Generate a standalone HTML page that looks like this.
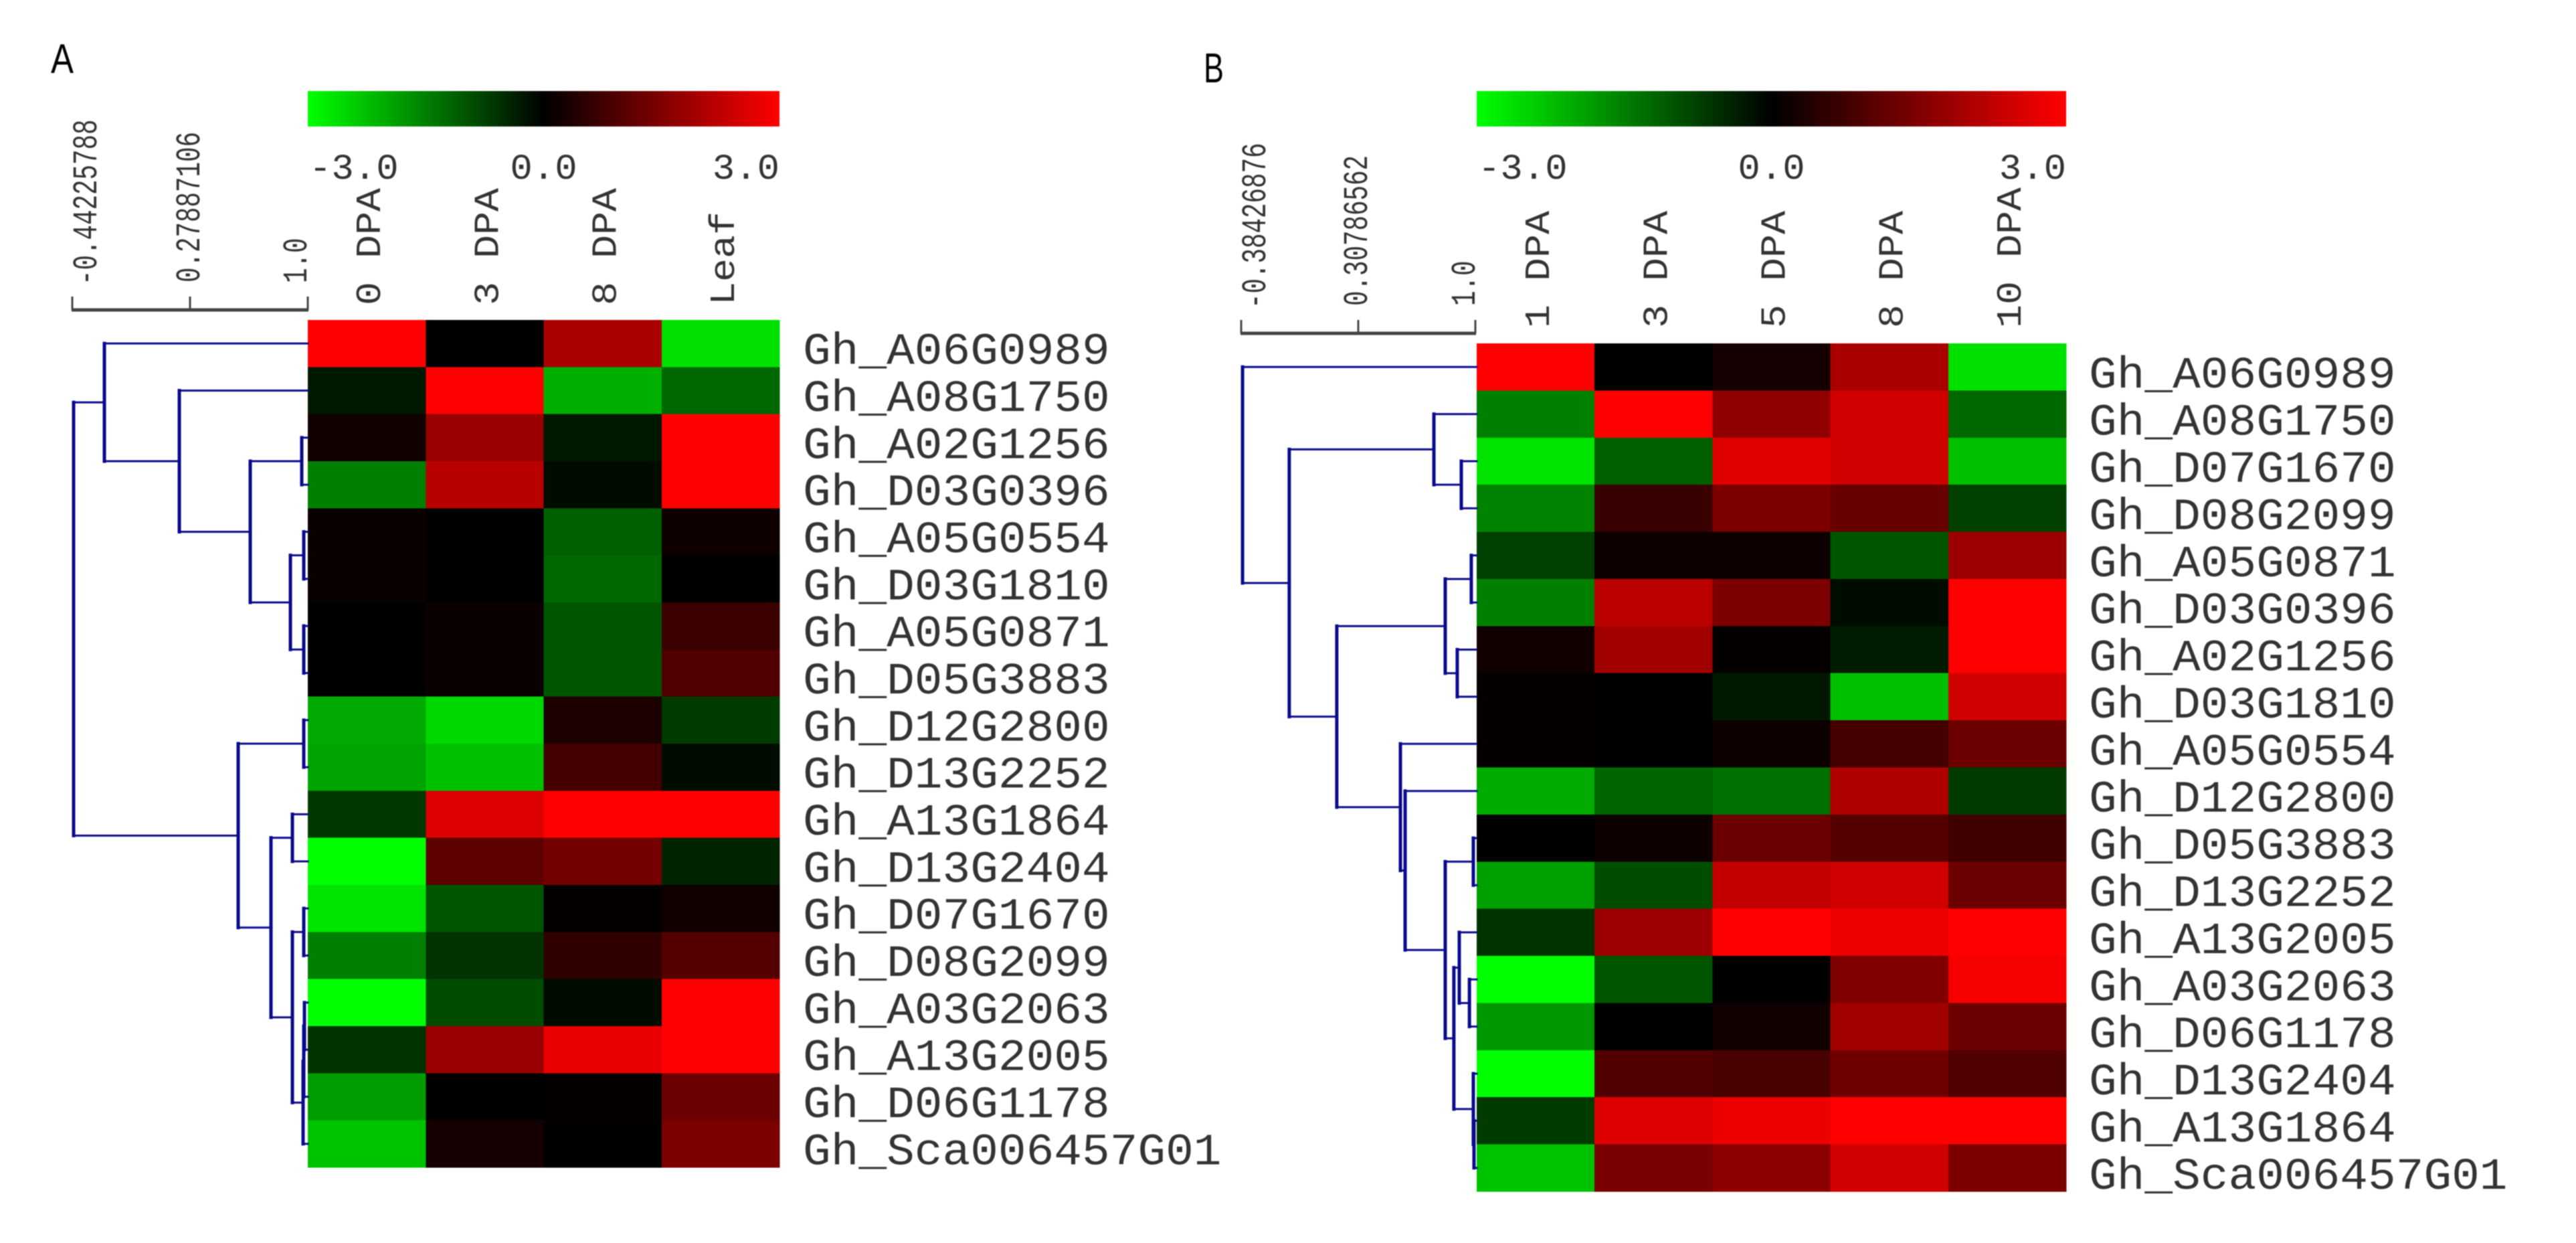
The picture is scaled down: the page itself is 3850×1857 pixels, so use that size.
<!DOCTYPE html>
<html lang="en">
<head>
<meta charset="utf-8">
<title>Clustered expression heatmaps</title>
<style>
html,body{margin:0;padding:0;background:#fff;width:3850px;height:1857px;overflow:hidden}
svg{display:block;filter:blur(0.9px)}
text{font-family:"Liberation Mono",monospace;fill:#333}
.letter{font-family:"Liberation Sans",sans-serif;fill:#000}
</style>
</head>
<body>
<svg id="figure" xmlns="http://www.w3.org/2000/svg" width="3850" height="1857" viewBox="0 0 3850 1857">
  <rect x="0" y="0" width="3850" height="1857" fill="#fff"/>
  <text class="letter" x="76" y="109" font-size="62" textLength="34" lengthAdjust="spacingAndGlyphs">A</text>
  <text class="letter" x="1799" y="123" font-size="62" textLength="30" lengthAdjust="spacingAndGlyphs">B</text>
</svg>
<script>
// ---------- Panel A data ----------
const samplesA = ["0 DPA", "3 DPA", "8 DPA", "Leaf"];
const genesA = ["Gh_A06G0989","Gh_A08G1750","Gh_A02G1256","Gh_D03G0396","Gh_A05G0554","Gh_D03G1810","Gh_A05G0871","Gh_D05G3883","Gh_D12G2800","Gh_D13G2252","Gh_A13G1864","Gh_D13G2404","Gh_D07G1670","Gh_D08G2099","Gh_A03G2063","Gh_A13G2005","Gh_D06G1178","Gh_Sca006457G01"];
const valuesA = [
  [3, 0, 2, -2.65],
  [-0.27, 3, -2.07, -1.22],
  [0.19, 1.8, -0.28, 3],
  [-1.5, 2.16, -0.14, 3],
  [0.1, 0, -1.13, 0.16],
  [0.1, 0, -1.22, 0],
  [0, 0.12, -1, 0.7],
  [0, 0.12, -1, 0.94],
  [-2, -2.55, 0.33, -0.7],
  [-1.93, -2.26, 0.8, -0.14],
  [-0.66, 2.6, 3, 3],
  [-3, 1.08, 1.36, -0.42],
  [-2.68, -1, 0.05, 0.19],
  [-1.5, -0.6, 0.56, 1],
  [-3, -0.9, -0.14, 3],
  [-0.6, 1.8, 2.73, 3],
  [-1.83, 0, 0.05, 1.27],
  [-2.3, 0.24, 0, 1.46]
];
// Tree nodes: [correlation, leftChild, rightChild]; integers are row indexes.
const treeA = [-0.434,
  [-0.2456, 0,
    [0.2133, 1,
      [0.6476,
        [0.963, 2, 3],
        [0.8935, [0.9754, 4, 5], [0.9754, 6, 7]]
      ]
    ]
  ],
  [0.5738,
    [0.9754, 8, 9],
    [0.7746,
      [0.9057, 10, 11],
      [0.9057,
        [0.9754, 12, 13],
        [0.9713, [0.9754, [0.9795, 14, 15], 16], 17]
      ]
    ]
  ]
];
const axisTicksA = [-0.44225788, 0.27887106, 1.0];
const axisLabelsA = ["-0.44225788", "0.27887106", "1.0"];

// ---------- Panel B data ----------
const samplesB = ["1 DPA", "3 DPA", "5 DPA", "8 DPA", "10 DPA"];
const genesB = ["Gh_A06G0989","Gh_A08G1750","Gh_D07G1670","Gh_D08G2099","Gh_A05G0871","Gh_D03G0396","Gh_A02G1256","Gh_D03G1810","Gh_A05G0554","Gh_D12G2800","Gh_D05G3883","Gh_D13G2252","Gh_A13G2005","Gh_A03G2063","Gh_D06G1178","Gh_D13G2404","Gh_A13G1864","Gh_Sca006457G01"];
const valuesB = [
  [3, 0, 0.24, 2, -2.65],
  [-1.5, 3, 1.7, 2.45, -1.22],
  [-2.68, -1.13, 2.63, 2.45, -2.26],
  [-1.55, 0.66, 1.46, 1.22, -0.75],
  [-0.75, 0.14, 0.14, -1, 1.83],
  [-1.5, 2.2, 1.46, -0.14, 3],
  [0.19, 1.88, 0.05, -0.33, 3],
  [0.05, 0, -0.28, -2.26, 2.45],
  [0.05, 0, 0.14, 0.8, 1.27],
  [-2.02, -1.18, -1.32, 2.07, -0.7],
  [0, 0.14, 1.27, 1, 0.75],
  [-1.88, -0.9, 2.3, 2.45, 1.27],
  [-0.6, 1.83, 3, 2.78, 3],
  [-3, -1, 0, 1.5, 2.9],
  [-1.79, 0, 0.19, 1.88, 1.27],
  [-3, 0.94, 0.85, 1.32, 0.94],
  [-0.7, 2.6, 2.78, 3, 3],
  [-2.3, 1.41, 1.65, 2.45, 1.46]
];
const treeB = [-0.376, 0,
  [-0.1,
    [0.755, 1, [0.917, 2, 3]],
    [0.181,
      [0.822, [0.976, 4, 5], [0.893, 6, 7]],
      [0.557, 8,
        [0.585, 9,
          [0.822,
            [0.988, 10, 11],
            [0.873,
              [0.905, 12, [0.965, 13, 14]],
              [0.988, 15, [0.992, 16, 17]]
            ]
          ]
        ]
      ]
    ]
  ]
];
const axisTicksB = [-0.38426876, 0.30786562, 1.0];
const axisLabelsB = ["-0.38426876", "0.30786562", "1.0"];

const scaleLabels = ["-3.0", "0.0", "3.0"];
const scaleStops = [-3, 0, 3];

// ---------- Drawing ----------
const NS = "http://www.w3.org/2000/svg";
const root = document.getElementById("figure");

function make(tag, attrs, parent) {
  const node = document.createElementNS(NS, tag);
  for (const k in attrs) node.setAttribute(k, attrs[k]);
  parent.appendChild(node);
  return node;
}
function valueColor(v) {
  const t = Math.min(1, Math.abs(v) / 3);
  const c = Math.round(t * 255);
  return v >= 0 ? "rgb(" + c + ",0,0)" : "rgb(0," + c + ",0)";
}

function drawPanel(id, cfg, samples, genes, values, tree, ticks, tickLabels) {
  const g = make("g", {}, root);
  
  

  const colW = cfg.w / samples.length;
  const rowH = cfg.h / genes.length;
  const xCol = i => cfg.x + i * colW;
  const yRow = i => cfg.y + i * rowH;
  const xCorr = c => cfg.axisLeft + (c - ticks[0]) / (ticks[ticks.length - 1] - ticks[0]) * (cfg.axisRight - cfg.axisLeft);
  const xScale = v => cfg.x + (v - scaleStops[0]) / (scaleStops[2] - scaleStops[0]) * cfg.w;

  // Colour scale bar
  const defs = make("defs", {}, g);
  const grad = make("linearGradient", { id: "grad-" + id, x1: "0", x2: "1", y1: "0", y2: "0" }, defs);
  scaleStops.forEach(s => {
    make("stop", { offset: (xScale(s) - cfg.x) / cfg.w, "stop-color": valueColor(s) }, grad);
  });
  const bar = make("rect", { x: cfg.x, y: 136, width: cfg.w, height: 53, fill: "url(#grad-" + id + ")" }, g);
  
  

  scaleLabels.forEach((lab, i) => {
    const len = lab.length * 33.4;
    const cx = xScale(scaleStops[i]);
    const sx = i === 0 ? cx + 2 : i === 2 ? cx - len + 0 : cx - len / 2;
    const t = make("text", { x: sx, y: 267, "font-size": 54, textLength: len, lengthAdjust: "spacingAndGlyphs" }, g);
    t.textContent = lab;
    
    
  });

  // Correlation axis
  const axis = make("g", { stroke: "#444", fill: "none" }, g);
  
  
  make("line", { x1: xCorr(ticks[0]) - 1, x2: xCorr(ticks[2]) + 1, y1: cfg.axisBase, y2: cfg.axisBase, "stroke-width": 5 }, axis);
  ticks.forEach((tk, i) => {
    const tickLine = make("line", { x1: xCorr(tk), x2: xCorr(tk), y1: cfg.axisBase - 20, y2: cfg.axisBase, "stroke-width": 3 }, axis);
    
    
    const len = tickLabels[i].length * 22.5;
    const bx = xCorr(tk) + cfg.tickOffset[i];
    const t = make("text", {
      transform: "translate(" + bx + "," + cfg.tickStart[i] + ") rotate(-90)",
      "font-size": 52, textLength: len, lengthAdjust: "spacingAndGlyphs"
    }, g);
    t.textContent = tickLabels[i];
    
    
  });

  // Sample headers
  samples.forEach((s, i) => {
    const bx = xCol(i) + colW / 2 + 20;
    const t = make("text", {
      transform: "translate(" + bx + "," + cfg.headerStart + ") rotate(-90)",
      "font-size": 53, textLength: s.length * 35, lengthAdjust: "spacingAndGlyphs"
    }, g);
    t.textContent = s;
    
    
  });

  // Heatmap cells
  const hm = make("g", { "shape-rendering": "crispEdges" }, g);
  
  
  values.forEach((row, r) => {
    row.forEach((v, c) => {
      const cell = make("rect", {
        x: xCol(c), y: yRow(r), width: colW + 0.5, height: rowH + 0.5, fill: valueColor(v)
      }, hm);
      
      
    });
  });

  // Gene labels
  genes.forEach((name, r) => {
    const t = make("text", {
      x: cfg.geneX, y: yRow(r) + rowH / 2 + cfg.geneDrop,
      "font-size": 67, textLength: name.length * 41.7, lengthAdjust: "spacingAndGlyphs"
    }, g);
    t.textContent = name;
    
    
  });

  // Dendrogram
  const den = make("g", { stroke: "#0a0a8c", fill: "none", "stroke-linecap": "square" }, g);
  
  
  function walk(n) {
    if (typeof n === "number") return { x: cfg.x, y: yRow(n) + rowH / 2 };
    const a = walk(n[1]);
    const b = walk(n[2]);
    const x = xCorr(n[0]);
    const y = (a.y + b.y) / 2;
    const v = make("line", { x1: x, x2: x, y1: a.y, y2: b.y, "stroke-width": 5 }, den);
    
    
    [a, b].forEach(ch => {
      const h = make("line", { x1: x, x2: ch.x, y1: ch.y, y2: ch.y, "stroke-width": 3 }, den);
      
      
    });
    return { x, y };
  }
  walk(tree);
}

drawPanel("a", {
  x: 460, y: 478, w: 705, h: 1266,
  axisLeft: 108, axisRight: 460, axisBase: 463,
  tickOffset: [36, 14, -2], tickStart: [426, 422, 423],
  headerStart: 456, geneX: 1200, geneDrop: 30.5
}, samplesA, genesA, valuesA, treeA, axisTicksA, axisLabelsA);

drawPanel("b", {
  x: 2207, y: 513, w: 881, h: 1267,
  axisLeft: 1855, axisRight: 2205, axisBase: 498,
  tickOffset: [36, 13, -1], tickStart: [461, 457, 457],
  headerStart: 490, geneX: 3122, geneDrop: 31
}, samplesB, genesB, valuesB, treeB, axisTicksB, axisLabelsB);
</script>
</body>
</html>
